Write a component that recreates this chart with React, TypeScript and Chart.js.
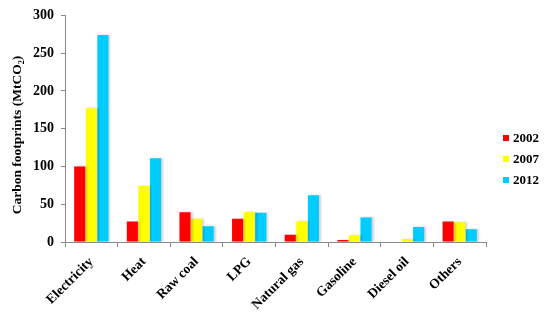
import React, { useEffect, useRef } from "react";
import { Chart, registerables } from "chart.js";

Chart.register(...registerables);

const categories = ["Electricity", "Heat", "Raw coal", "LPG", "Natural gas", "Gasoline", "Diesel oil", "Others"];
const years = ["2002", "2007", "2012"];
const values2002 = [100, 27, 39.5, 30.7, 9.7, 2.6, 0, 27];
const values2007 = [177, 74, 30.7, 39.5, 27.6, 8.8, 4, 26.3];
const values2012 = [274, 111, 21, 38.6, 61.8, 32.5, 20, 17];
const colors = ["#FF0000", "#FFFF00", "#00CCFF"];
const yTicks = [0, 50, 100, 150, 200, 250, 300];
const yTitle = "Carbon footprints (MtCO₂)";

const FONT = "'Liberation Serif', 'Times New Roman', serif";

const shadowPlugin = {
  id: "barShadow",
  beforeDatasetsDraw(chart: any) {
    const ctx = chart.ctx;
    ctx.save();
    ctx.shadowColor = "rgba(0,0,0,0.18)";
    ctx.shadowOffsetX = 2;
    ctx.shadowOffsetY = 0;
    ctx.shadowBlur = 2;
  },
  afterDatasetsDraw(chart: any) {
    chart.ctx.restore();
  },
};

const legendPlugin = {
  id: "customLegend",
  afterDraw(chart: any) {
    const ctx = chart.ctx;
    ctx.save();
    ctx.font = `bold 13px ${FONT}`;
    ctx.textBaseline = "middle";
    ctx.textAlign = "left";
    chart.data.datasets.forEach((ds: any, i: number) => {
      const y = 138 + i * 21;
      ctx.fillStyle = ds.backgroundColor;
      ctx.fillRect(503, y - 3, 6, 6);
      ctx.fillStyle = "#000";
      ctx.fillText(ds.label, 513, y + 1);
    });
    // y-axis title
    ctx.translate(18, 135);
    ctx.rotate(-Math.PI / 2);
    ctx.textAlign = "center";
    ctx.font = `bold 13.5px ${FONT}`;
    ctx.fillText(yTitle, 0, 0);
    ctx.restore();
  },
};

export default function App() {
  const ref = useRef<HTMLCanvasElement>(null);
  useEffect(() => {
    document.body.style.margin = "0";
    const series = [values2002, values2007, values2012];
    const chart = new Chart(ref.current!, {
      type: "bar",
      data: {
        labels: categories,
        datasets: years.map((y, i) => ({
          label: y,
          data: series[i],
          backgroundColor: colors[i],
          borderWidth: 0,
          categoryPercentage: 0.66,
          barPercentage: 0.96,
        })),
      },
      options: {
        animation: false,
        responsive: false,
        maintainAspectRatio: false,
        layout: { padding: { top: 14, right: 64, left: 0, bottom: 0 } },
        plugins: {
          legend: { display: false },
          tooltip: { enabled: false },
        },
        scales: {
          x: {
            grid: {
              display: true,
              drawOnChartArea: false,
              drawTicks: true,
              tickLength: 5,
              color: "#8a8a8a",
              offset: true,
            },
            border: { color: "#8a8a8a", width: 1 },
            ticks: {
              color: "#000",
              font: { family: FONT, size: 13.5, weight: "bold" },
              maxRotation: 45,
              minRotation: 45,
              padding: 7,
            },
            afterFit(scale: any) {
              scale.height = 76;
            },
          },
          y: {
            min: 0,
            max: 300,
            afterBuildTicks(scale: any) {
              scale.ticks = yTicks.map((v) => ({ value: v }));
            },
            grid: {
              display: true,
              drawOnChartArea: false,
              drawTicks: true,
              tickLength: 4,
              color: "#8a8a8a",
            },
            border: { color: "#8a8a8a", width: 1 },
            ticks: {
              color: "#000",
              font: { family: FONT, size: 14, weight: "bold" },
              padding: 7,
            },
            afterFit(scale: any) {
              scale.width = 65;
            },
          },
        },
      },
      plugins: [shadowPlugin, legendPlugin],
    });
    return () => chart.destroy();
  }, []);
  return (
    <div style={{ width: 550, height: 318 }}>
      <canvas ref={ref} width={550} height={318} style={{ display: "block" }} />
    </div>
  );
}
